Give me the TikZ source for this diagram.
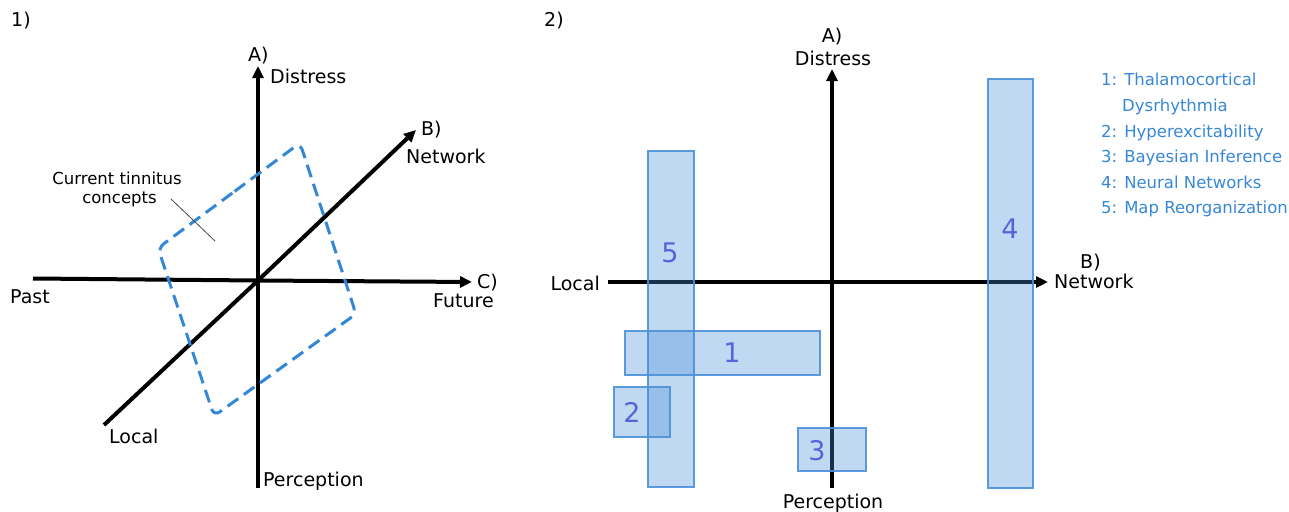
\documentclass[tikz,border=0pt]{standalone}
\usepackage{fontspec}
\setmainfont{DejaVu Sans}
\usetikzlibrary{arrows.meta,calc}

\definecolor{conceptblue}{RGB}{50,135,215}
\definecolor{boxblue}{RGB}{74,144,217}
\definecolor{numblue}{RGB}{85,100,215}
\definecolor{legendblue}{RGB}{55,135,215}
\definecolor{leadergray}{RGB}{70,70,70}

\begin{document}
\begin{tikzpicture}[x=1pt,y=-1pt,
  axisline/.style={line width=4pt,black},
  axisarrow/.style={line width=4pt,black,-{Triangle[length=12pt,width=11pt]}},
  lab/.style={inner sep=0pt,font=\fontsize{19}{22}\selectfont},
  smalllab/.style={inner sep=0pt,font=\fontsize{16.5}{20}\selectfont,align=center},
  legend/.style={inner sep=0pt,anchor=base west,text=legendblue,font=\fontsize{16.5}{20}\selectfont},
  concept/.style={draw=conceptblue,line width=3pt,dash pattern=on 13pt off 7pt,rounded corners=7pt},
  theorybox/.style={draw=boxblue,draw opacity=0.9,line width=2pt,fill=boxblue,fill opacity=0.35},
  boxnum/.style={inner sep=0pt,text=numblue,font=\fontsize{27}{30}\selectfont}]

\useasboundingbox (0,0) rectangle (1289,511);

% ---------------- panel 1: three axes ----------------
\node[lab,anchor=base west] (p1) at (11,27) {1)};

\coordinate (o1) at (258,280.5);
\coordinate (vtop) at (258,66);
\coordinate (vbot) at (258,488);
\coordinate (hleft) at (33,278.5);
\coordinate (hright) at (472,282);
\coordinate (dlow) at (104,425);
\coordinate (dhigh) at (416,130);

\draw[axisline] (vbot) -- (o1);
\draw[axisarrow] (o1) -- (vtop);
\draw[axisline] (hleft) -- (o1);
\draw[axisarrow] (o1) -- (hright);
\draw[axisline] (dlow) -- (o1);
\draw[axisarrow] (o1) -- (dhigh);

\node[lab,anchor=base west] (a1) at (248,61) {A)};
\node[lab,anchor=base west] (dist1) at (270,83) {Distress};
\node[lab,anchor=base west] (b1) at (421,135) {B)};
\node[lab,anchor=base west] (net1) at (406,163) {Network};
\node[lab,anchor=base west] (c1) at (477,288) {C)};
\node[lab,anchor=base west] (fut1) at (433,307) {Future};
\node[lab,anchor=base west] (past1) at (10,303) {Past};
\node[lab,anchor=base west] (loc1) at (109,443) {Local};
\node[lab,anchor=base west] (perc1) at (263,486) {Perception};

% region of current concepts
\coordinate (ctop) at (300,143);
\coordinate (cright) at (356,314);
\coordinate (cbot) at (214,416);
\coordinate (cleft) at (158,248);
\draw[concept] ($(cleft)!0.5!(ctop)$) -- (ctop) -- (cright) -- (cbot) -- (cleft) -- cycle;

\node[smalllab,anchor=base] (cur) at (117,184) {Current tinnitus};
\node[smalllab,anchor=base] (con) at (119.5,203) {concepts};
\coordinate (lead1) at (171,199);
\coordinate (lead2) at (215,241);
\draw[leadergray,line width=0.8pt] (lead1) -- (lead2);

% ---------------- panel 2: two axes with theories ----------------
\node[lab,anchor=base west] (p2) at (544,27) {2)};

\coordinate (o2) at (832,282);
\coordinate (v2top) at (832,69);
\coordinate (v2bot) at (832,488);
\coordinate (h2left) at (608,282);
\coordinate (h2right) at (1048,282);

\draw[axisline] (v2bot) -- (o2);
\draw[axisarrow] (o2) -- (v2top);
\draw[axisline] (h2left) -- (o2);
\draw[axisarrow] (o2) -- (h2right);

\node[lab,anchor=base] (a2) at (832,43) {A)};
\node[lab,anchor=base] (dist2) at (833,65) {Distress};
\node[lab,anchor=base west] (b2) at (1080,268) {B)};
\node[lab,anchor=base west] (net2) at (1054,288) {Network};
\node[lab,anchor=base east] (loc2) at (600,290) {Local};
\node[lab,anchor=base] (perc2) at (833,508) {Perception};

% theory boxes
\path[theorybox] (648,151) rectangle (694,487);
\path[theorybox] (988,79) rectangle (1033,488);
\path[theorybox] (625,331) rectangle (820,375);
\path[theorybox] (614,387) rectangle (670,437);
\path[theorybox] (798,428) rectangle (866,471);

\node[boxnum] (n5) at (670,253) {5};
\node[boxnum] (n4) at (1010,229) {4};
\node[boxnum] (n1) at (732,353) {1};
\node[boxnum] (n2) at (632,412) {2};
\node[boxnum] (n3) at (817,451) {3};

% legend
\node[legend] (l1) at (1101,85) {1: Thalamocortical};
\node[legend] (l1b) at (1122,111) {Dysrhythmia};
\node[legend] (l2) at (1101,137) {2: Hyperexcitability};
\node[legend] (l3) at (1101,162) {3: Bayesian Inference};
\node[legend] (l4) at (1101,188) {4: Neural Networks};
\node[legend] (l5) at (1101,213) {5: Map Reorganization};

\end{tikzpicture}
\end{document}
